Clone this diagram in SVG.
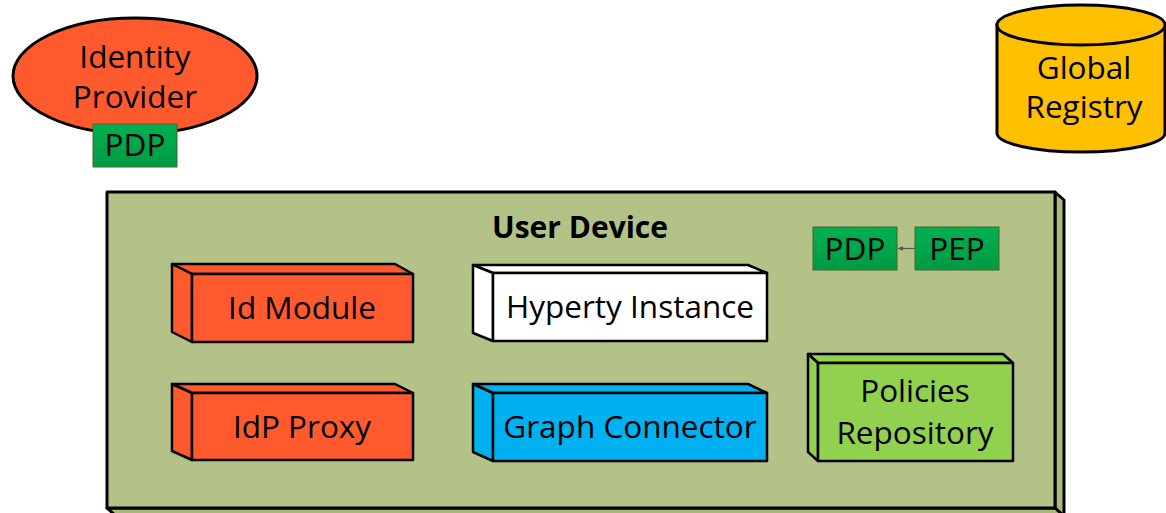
<svg xmlns="http://www.w3.org/2000/svg" width="1166" height="513" viewBox="0 0 1166 513">
  <defs>
    <linearGradient id="gGreen" x1="0" y1="0" x2="0" y2="1">
      <stop offset="0" stop-color="#00B050"/>
      <stop offset="1" stop-color="#009A44"/>
    </linearGradient>
    <marker id="arrowHead" viewBox="0 0 10 10" refX="9" refY="5" markerWidth="5" markerHeight="5" orient="auto">
      <path d="M0,1 L10,5 L0,9 z" fill="#555"/>
    </marker>
  </defs>
  <style>
    text { font-family: "Open Sans", "Liberation Sans", sans-serif; font-size: 31.5px; fill: #000; text-anchor: middle; }
    .title { font-weight: bold; font-size: 30px; }
    .edge { stroke: #000; stroke-width: 3; stroke-linejoin: round; }
    .box { stroke: #000; stroke-width: 2.5; stroke-linejoin: round; }
    .red { fill: #FF5A2E; }
    .white { fill: #FFFFFF; }
    .blue { fill: #00B0F0; }
    .lime { fill: #92D050; }
    .tag { fill: url(#gGreen); stroke: #4F6228; stroke-width: 1; }
    .conn { stroke: #555; stroke-width: 1.2; fill: none; }
  </style>

  <!-- Identity Provider with its PDP -->
  <g id="identity-provider">
    <ellipse cx="135" cy="76" rx="122" ry="58" class="red" stroke="#000" stroke-width="3"/>
    <text x="135" y="68">Identity</text>
    <text x="135" y="108">Provider</text>
  </g>
  <g id="idp-pdp">
    <rect x="93" y="124" width="84" height="43" class="tag"/>
    <text x="135" y="156">PDP</text>
  </g>

  <!-- Global Registry (cylinder) -->
  <g id="global-registry">
    <path d="M997,25 L997,133 A84,19 0 0 0 1165,133 L1165,25 Z" fill="#FFC000" stroke="#000" stroke-width="3"/>
    <ellipse cx="1081" cy="25" rx="84" ry="20" fill="#FFC000" stroke="#000" stroke-width="3"/>
    <text x="1084" y="79">Global</text>
    <text x="1084" y="118">Registry</text>
  </g>

  <!-- User Device container -->
  <g id="user-device">
    <polygon points="1055,192 1064,200 1064,520 1055,508" fill="#A9B97C" class="edge"/>
    <polygon points="107,508 116,516 1064,516 1055,508" fill="#A9B97C" class="edge"/>
    <rect x="107" y="192" width="948" height="316" fill="#B3C287" class="edge"/>
    <text x="580" y="238" class="title">User Device</text>
  </g>

  <g id="device-pdp">
    <rect x="813" y="227" width="84" height="43" class="tag"/>
    <text x="855" y="260">PDP</text>
  </g>
  <g id="device-pep">
    <rect x="915" y="227" width="84" height="43" class="tag"/>
    <text x="957" y="260">PEP</text>
  </g>

  <g id="id-module">
    <polygon points="172,264 395,264 413,274 192,274" class="red box"/>
    <polygon points="172,264 192,274 192,342 172,332" class="red box"/>
    <rect x="192" y="274" width="221" height="68" class="red box"/>
    <text x="302" y="319">Id Module</text>
  </g>

  <g id="idp-proxy">
    <polygon points="172,384 395,384 413,393 192,393" class="red box"/>
    <polygon points="172,384 192,393 192,460 172,451" class="red box"/>
    <rect x="192" y="393" width="221" height="67" class="red box"/>
    <text x="302" y="438">IdP Proxy</text>
  </g>

  <g id="hyperty-instance">
    <polygon points="473,265 748,265 767,273 493,273" class="white box"/>
    <polygon points="473,265 493,273 493,341 473,333" class="white box"/>
    <rect x="493" y="273" width="274" height="68" class="white box"/>
    <text x="630" y="318">Hyperty Instance</text>
  </g>

  <g id="graph-connector">
    <polygon points="473,384 748,384 767,393 493,393" class="blue box"/>
    <polygon points="473,384 493,393 493,461 473,452" class="blue box"/>
    <rect x="493" y="393" width="274" height="68" class="blue box"/>
    <text x="630" y="438">Graph Connector</text>
  </g>

  <g id="policies-repository">
    <polygon points="808,354 1003,354 1013,363 818,363" class="lime box"/>
    <polygon points="808,354 818,363 818,461 808,452" class="lime box"/>
    <rect x="818" y="363" width="195" height="98" class="lime box"/>
    <text x="915" y="402">Policies</text>
    <text x="915" y="444">Repository</text>
  </g>

  <!-- Connectors -->
  <g id="connectors">
    <line x1="915" y1="248.5" x2="898" y2="248.5" class="conn" marker-end="url(#arrowHead)"/>
  </g>
</svg>
